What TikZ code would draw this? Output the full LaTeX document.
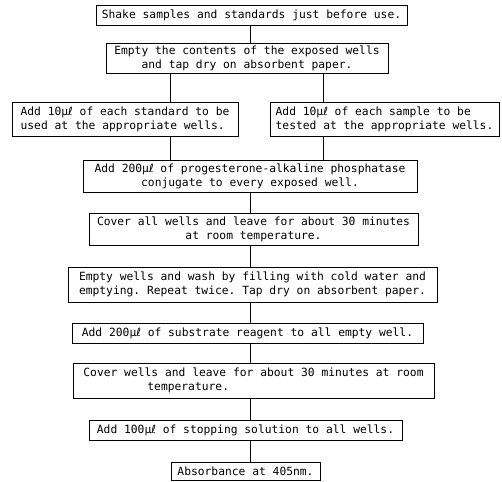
\documentclass[tikz,border=0pt]{standalone}
\usepackage{fontspec}
\newfontfamily\monofont{DejaVu Sans Mono}
\newfontfamily\litrefont{DejaVu Sans}
\newcommand{\ul}{µ{\litrefont ℓ}}
\begin{document}
\begin{tikzpicture}[x=1pt, y=-1pt,
    stepbox/.style={draw, line width=0.8pt, inner sep=0pt, align=center,
        font=\monofont\fontsize{11.3}{14}\selectfont\frenchspacing},
    link/.style={line width=0.8pt}]
    \useasboundingbox (0,0) rectangle (502,481);
    % Boxes
    \node[stepbox, minimum width=311pt, minimum height=20pt] (shake) at (251.5,15)
        {Shake samples and standards just before use.};
    \node[stepbox, minimum width=282pt, minimum height=30pt] (empty) at (247,58)
        {Empty the contents of the exposed wells\\and tap dry on absorbent paper.};
    \node[stepbox, align=left, minimum width=226pt, minimum height=34pt] (std) at (125,119)
        {Add 10\ul{} of each standard to be\\used at the appropriate wells.};
    \node[stepbox, align=left, minimum width=229pt, minimum height=34pt] (smp) at (384.5,119)
        {Add 10\ul{} of each sample to be\\tested at the appropriate wells.};
    \node[stepbox, minimum width=334pt, minimum height=32pt] (conj) at (250,176)
        {Add 200\ul{} of progesterone-alkaline phosphatase\\conjugate to every exposed well.};
    \node[stepbox, minimum width=329pt, minimum height=32pt] (cover) at (253.5,229)
        {Cover all wells and leave for about 30 minutes\\at room temperature.};
    \node[stepbox, align=left, minimum width=369pt, minimum height=35pt] (wash) at (252.5,284.5)
        {Empty wells and wash by filling with cold water and\\emptying. Repeat twice. Tap dry on absorbent paper.};
    \node[stepbox, minimum width=351pt, minimum height=20pt] (subs) at (247.5,333)
        {Add 200\ul{} of substrate reagent to all empty well.};
    \node[stepbox, align=left, minimum width=361pt, minimum height=35pt] (leave) at (253.5,380.5)
        {Cover wells and leave for about 30 minutes at room\\\hspace*{64pt}temperature.};
    \node[stepbox, minimum width=313pt, minimum height=20pt] (stop) at (245.5,430)
        {Add 100\ul{} of stopping solution to all wells.};
    \node[stepbox, minimum width=149pt, minimum height=18pt] (abs) at (245.5,471)
        {Absorbance at 405nm.};
    % Connector columns
    \coordinate (jl) at (170,0);
    \coordinate (jm) at (250,0);
    \coordinate (jr) at (323,0);
    % Connectors
    \draw[link] (jm |- shake.south) -- (jm |- empty.north);
    \draw[link] (jl |- empty.south) -- (jl |- std.north);
    \draw[link] (jr |- empty.south) -- (jr |- smp.north);
    \draw[link] (jl |- std.south) -- (jl |- conj.north);
    \draw[link] (jr |- smp.south) -- (jr |- conj.north);
    \foreach \a/\b in {conj/cover, cover/wash, wash/subs, subs/leave, leave/stop, stop/abs}
    {
    \draw[link] (jm |- \a.south) -- (jm |- \b.north);
    }
\end{tikzpicture}
\end{document}
